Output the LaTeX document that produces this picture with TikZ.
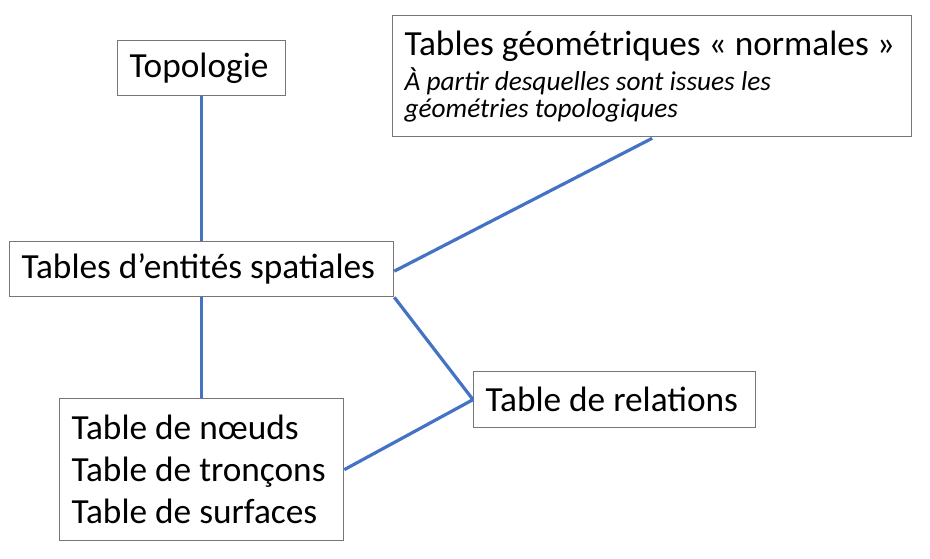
\documentclass[tikz,border=0pt]{standalone}
\usepackage{fontspec}
\setmainfont{Carlito}
\begin{document}
\begin{tikzpicture}[x=1pt,y=-1pt]
\definecolor{linkblue}{RGB}{68,114,196}
\definecolor{boxgray}{RGB}{118,118,118}
\tikzset{
  box/.style={draw=boxgray, line width=1.3pt, anchor=north west, inner xsep=12pt, inner ysep=0pt, align=flush left, font=\fontsize{35.3}{42}\selectfont},
  link/.style={draw=linkblue, line width=3.2pt}}
\useasboundingbox (0,0) rectangle (930,558);
\node[box, minimum width=168pt, minimum height=55pt, text width=144pt] (topo) at (117,40) {Topologie};
\node[box, minimum width=519pt, minimum height=121pt, text width=495pt] (geom) at (392,15)
  {\fontsize{35.3}{38}\selectfont Tables géométriques « normales »\par\vskip 5pt
   \fontsize{27.3}{27}\selectfont\itshape À partir desquelles sont issues les\\géométries topologiques\par\vskip 8pt};
\node[box, minimum width=384pt, minimum height=55pt, text width=360pt] (ent) at (9,241) {Tables d’entités spatiales};
\node[box, minimum width=282pt, minimum height=56pt, text width=258pt] (rel) at (473,371) {Table de relations};
\node[box, minimum width=284pt, minimum height=142pt, text width=260pt] (noeuds) at (59,398)
  {Table de nœuds\\Table de tronçons\\Table de surfaces};
\draw[link] (topo.south) -- (topo.south |- ent.north);
\draw[link] (ent.south) -- (ent.south |- noeuds.north);
\draw[link] ([yshift=-2pt]ent.east) -- ([yshift=-1pt]geom.south);
\draw[link] (ent.south east) -- (rel.west);
\draw[link] (rel.west) -- (noeuds.east);
\end{tikzpicture}
\end{document}
